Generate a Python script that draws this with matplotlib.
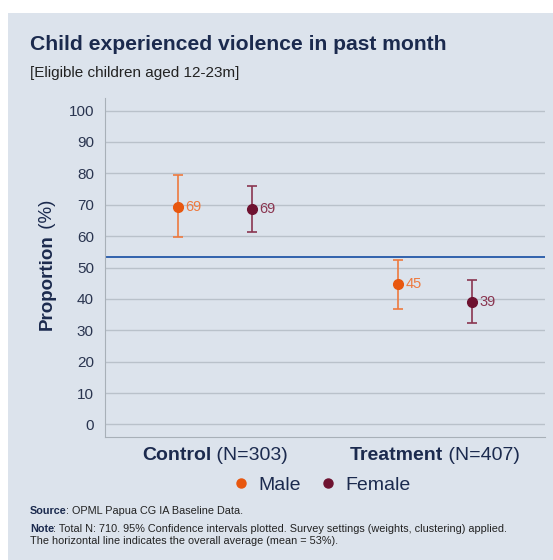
import matplotlib.pyplot as plt
from matplotlib.patches import Rectangle
from matplotlib.offsetbox import TextArea, HPacker, AnnotationBbox

plt.rcParams["font.family"] = ["Liberation Sans", "DejaVu Sans"]

# ── Data ────────────────────────────────────────────────────────────────
groups = ["Control", "Treatment"]
group_n = [303, 407]
sexes = ["Male", "Female"]

male_est = [69.4, 44.8]
male_lo = [59.6, 36.9]
male_hi = [79.4, 52.4]
female_est = [68.6, 39.1]
female_lo = [61.3, 32.2]
female_hi = [76.1, 46.0]

overall_mean = 53.5
yticks = [0, 10, 20, 30, 40, 50, 60, 70, 80, 90, 100]

# ── Colours ─────────────────────────────────────────────────────────────
BG = "#dce3ec"
NAVY = "#1b2a4e"
GRID = "#b9c1ca"
C_MALE = "#e8570f"
C_FEMALE = "#6e1230"
C_MEAN = "#2458a8"

W, H = 553, 560
fig = plt.figure(figsize=(W / 100, H / 100), dpi=100)
fig.patch.set_facecolor("white")
fig.patches.append(Rectangle((8 / W, 0), 1, 1 - 13 / H, transform=fig.transFigure,
                             facecolor=BG, edgecolor="none", zorder=-10))
renderer = fig.canvas.get_renderer()


def rich_text(x, y, parts, size, vertical=False):
    """Draw consecutive (text, weight, colour) runs starting at pixel x, y."""
    for s, weight, color in parts:
        if vertical:
            t = fig.text(x / W, 1 - y / H, s, fontsize=size, fontweight=weight,
                         color=color, rotation=90, ha="center", va="bottom")
            y -= t.get_window_extent(renderer).height
        else:
            t = fig.text(x / W, 1 - y / H, s, fontsize=size, fontweight=weight,
                         color=color, va="center", ha="left")
            x += t.get_window_extent(renderer).width - 1


ax = fig.add_axes([105 / W, 1 - 437 / H, 440 / W, 339 / H])
ax.set_facecolor(BG)

offset = 0.168
series = [
    (male_est, male_lo, male_hi, C_MALE, "#ee7a3f", -offset),
    (female_est, female_lo, female_hi, C_FEMALE, "#8a3550", offset),
]
for (est, lo, hi, col, errcol, dx), name in zip(series, sexes):
    for i in range(len(groups)):
        x = i + dx
        ax.errorbar(x, est[i], yerr=[[est[i] - lo[i]], [hi[i] - est[i]]],
                    fmt="none", ecolor=errcol, elinewidth=1.2, capsize=3.5,
                    capthick=1.2, zorder=3)
        ax.plot(x, est[i], "o", color=col, markersize=7, zorder=4)
        ax.annotate(f"{round(est[i])}", (x, est[i]), xytext=(5.5, 0),
                    textcoords="offset points", va="center", ha="left",
                    fontsize=10.5, color=errcol)
    ax.plot([], [], "o", color=col, markersize=6.5, label=name)

ax.axhline(overall_mean, color=C_MEAN, linewidth=1.3, zorder=2)

ax.set_xlim(-0.5, 1.5)
ax.set_ylim(-4, 104)
ax.set_yticks(yticks)
ax.tick_params(axis="y", length=0, labelsize=11, labelcolor="#2a3550", pad=8)
ax.set_xticks([])
ax.grid(axis="y", color=GRID, linewidth=1)
ax.set_axisbelow(True)
for side in ["top", "right"]:
    ax.spines[side].set_visible(False)
for side in ["left", "bottom"]:
    ax.spines[side].set_color("#a8b0b8")
    ax.spines[side].set_linewidth(0.8)

# group labels: bold name + plain count
for i, (g, n) in enumerate(zip(groups, group_n)):
    box = HPacker(children=[
        TextArea(g, textprops=dict(fontsize=14, fontweight="bold", color=NAVY)),
        TextArea(f" (N={n})", textprops=dict(fontsize=14, color=NAVY)),
    ], pad=0, sep=0)
    ab = AnnotationBbox(box, (i, 0), xycoords=ax.get_xaxis_transform(),
                        xybox=(0, -7), boxcoords="offset points",
                        box_alignment=(0.5, 1), frameon=False)
    ax.add_artist(ab)

fig.legend(loc="center", bbox_to_anchor=(322 / W, 1 - 485 / H), ncol=2,
           frameon=False, fontsize=14, handletextpad=0.5, columnspacing=1.0,
           labelcolor=NAVY, handlelength=0.8)

# y label: bold word + plain unit
rich_text(47, 330, [("Proportion", "bold", NAVY), (" (%)", "normal", NAVY)],
          13.5, vertical=True)

fig.text(30 / W, 1 - 45 / H, "Child experienced violence in past month",
         fontsize=15.2, fontweight="bold", color=NAVY, va="center")
fig.text(30 / W, 1 - 73 / H, "[Eligible children aged 12-23m]",
         fontsize=11, color="#222222", va="center")

rich_text(30, 511, [("Source", "bold", NAVY),
                    (": OPML Papua CG IA Baseline Data.", "normal", "#222222")], 7.8)
rich_text(30, 529, [("Note", "bold", NAVY),
                    (": Total N: 710. 95% Confidence intervals plotted. "
                     "Survey settings (weights, clustering) applied.", "normal", "#222222")], 7.8)
fig.text(30 / W, 1 - 541 / H,
         "The horizontal line indicates the overall average (mean = 53%).",
         fontsize=7.8, color="#222222", va="center")

fig.savefig("out.png", dpi=100)
